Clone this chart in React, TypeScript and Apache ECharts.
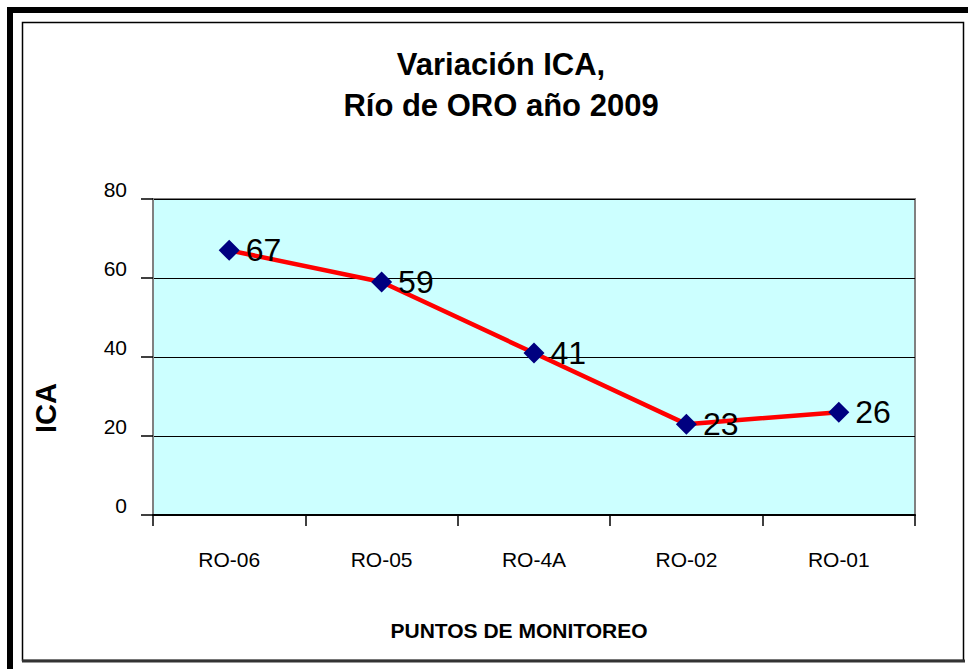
import React, { useEffect, useRef } from "react";
import * as echarts from "echarts";

const categories = ["RO-06", "RO-05", "RO-4A", "RO-02", "RO-01"];
const icaValues = [67, 59, 41, 23, 26];
const yTicks = { min: 0, max: 80, interval: 20 };
const titleLines = ["Variación ICA,", "Río de ORO año 2009"];
const yName = "ICA";
const xName = "PUNTOS DE MONITOREO";

export default function App() {
  const ref = useRef<HTMLDivElement>(null);
  useEffect(() => {
    document.body.style.margin = "0";
    const chart = echarts.init(ref.current!, undefined, { renderer: "svg" });
    const font = "Arial, 'Liberation Sans', sans-serif";
    chart.setOption({
      animation: false,
      backgroundColor: "#ffffff",
      textStyle: { fontFamily: font },
      title: {
        text: titleLines.join("\n"),
        left: 496,
        textAlign: "center",
        top: 39,
        textStyle: { fontSize: 31, fontWeight: "bold", color: "#000", lineHeight: 41, fontFamily: font },
      },
      graphic: [
        { type: "rect", shape: { x: 7, y: 7, width: 6, height: 662 }, style: { fill: "#000" }, silent: true },
        { type: "rect", shape: { x: 7, y: 7, width: 961, height: 6 }, style: { fill: "#000" }, silent: true },
        { type: "rect", shape: { x: 22.5, y: 22.5, width: 941, height: 638 }, style: { fill: "none", stroke: "#000", lineWidth: 1.5 }, silent: true },
        { type: "line", shape: { x1: 22, y1: 661, x2: 965, y2: 661 }, style: { stroke: "#333", lineWidth: 3 }, silent: true },
        {
          type: "text",
          x: 46,
          y: 408,
          rotation: Math.PI / 2,
          style: { text: yName, font: `bold 29px ${font}`, fill: "#000", align: "center", verticalAlign: "middle" },
        },
        {
          type: "text",
          x: 519,
          y: 630,
          style: { text: xName, font: `bold 21px ${font}`, fill: "#000", align: "center", verticalAlign: "middle" },
        },
      ],
      grid: {
        left: 153,
        top: 199,
        width: 762,
        height: 316,
        show: true,
        backgroundColor: "#CCFFFF",
        borderColor: "#808080",
        borderWidth: 2,
      },
      xAxis: {
        type: "category",
        data: categories,
        boundaryGap: true,
        axisLine: { show: true, lineStyle: { color: "#000", width: 2 } },
        axisTick: { show: true, alignWithLabel: false, length: 11, lineStyle: { color: "#000", width: 1.5 } },
        axisLabel: { color: "#000", fontSize: 21, margin: 34, fontFamily: font },
        splitLine: { show: false },
      },
      yAxis: {
        type: "value",
        min: yTicks.min,
        max: yTicks.max,
        interval: yTicks.interval,
        axisLine: { show: true, lineStyle: { color: "#808080", width: 2 } },
        axisTick: { show: true, length: 12, lineStyle: { color: "#000", width: 1.5 } },
        axisLabel: {
          color: "#000",
          fontSize: 21,
          margin: 26,
          fontFamily: font,
          verticalAlign: "bottom",
          lineHeight: 20,
        },
        splitLine: { show: true, lineStyle: { color: "#000", width: 1 } },
      },
      series: [
        {
          type: "line",
          data: icaValues,
          symbol: "diamond",
          symbolSize: 21,
          itemStyle: { color: "#000080" },
          lineStyle: { color: "#FF0000", width: 4.5 },
          label: {
            show: true,
            position: "right",
            distance: 6,
            color: "#000",
            fontSize: 32,
            fontFamily: font,
          },
          z: 3,
        },
      ],
    });
    return () => chart.dispose();
  }, []);
  return <div ref={ref} style={{ width: 968, height: 669 }} />;
}
